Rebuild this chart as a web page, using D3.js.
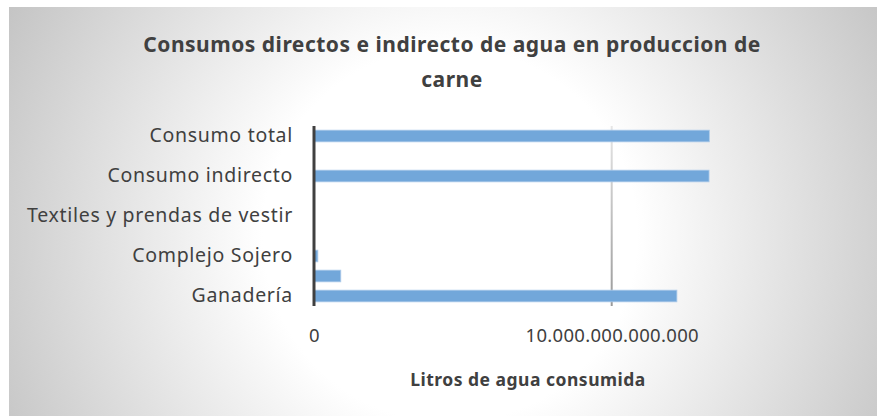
<!DOCTYPE html>
<html>
<head>
<meta charset="utf-8">
<script src="https://cdn.jsdelivr.net/npm/d3@7"></script>
<style>
  body { margin: 0; background: #fff; }
  svg { display: block; font-family: "Noto Sans", sans-serif; }
</style>
</head>
<body>
<svg id="chart" width="881" height="416"></svg>
<script>
// categories top to bottom; Excel only prints every other label
const categories = [
  "Consumo total",
  "Consumo directo",
  "Consumo indirecto ",
  "Otros",
  "Textiles y prendas de vestir",
  "Cuero",
  "Complejo Sojero",
  "Maíz",
  "Ganadería"
];
const values = [
  13.28e12,
  0,
  13.27e12,
  0,
  0,
  0,
  0.13e12,
  0.9e12,
  12.19e12
];
const xTicks = [0, 1e13];

const svg = d3.select("#chart");
const defs = svg.append("defs");

const bg = defs.append("radialGradient").attr("id", "bg")
  .attr("gradientUnits", "userSpaceOnUse")
  .attr("cx", 450).attr("cy", 235).attr("r", 520);
bg.append("stop").attr("offset", "0%").attr("stop-color", "#ffffff");
bg.append("stop").attr("offset", "36%").attr("stop-color", "#ffffff");
bg.append("stop").attr("offset", "100%").attr("stop-color", "#c0c0c0");

const grid = defs.append("linearGradient").attr("id", "grid")
  .attr("x1", 0).attr("y1", 0).attr("x2", 0).attr("y2", 1);
grid.append("stop").attr("offset", "0%").attr("stop-color", "#e6e6e6");
grid.append("stop").attr("offset", "100%").attr("stop-color", "#9a9a9a");

svg.append("rect")
  .attr("x", 9).attr("y", 7)
  .attr("width", 868).attr("height", 420)
  .attr("fill", "url(#bg)");

const x = d3.scaleLinear()
  .domain([0, 1e13])
  .range([314, 611.7]);

const y = d3.scaleBand()
  .domain(categories)
  .range([126, 306])
  .paddingInner(0.415)
  .paddingOuter(0.2075);

const locale = d3.formatLocale({ decimal: ",", thousands: ".", grouping: [3], currency: ["", ""] });
const fmt = locale.format(",d");

// gridlines
svg.append("g")
  .selectAll("rect")
  .data(xTicks.slice(1))
  .enter()
  .append("rect")
  .attr("x", d => x(d) - 1)
  .attr("y", 126)
  .attr("width", 2)
  .attr("height", 180)
  .attr("fill", "url(#grid)");

// bars
svg.append("g")
  .selectAll("rect")
  .data(categories)
  .enter()
  .append("rect")
  .attr("x", x(0))
  .attr("y", d => y(d))
  .attr("width", (d, i) => x(values[i]) - x(0))
  .attr("height", y.bandwidth())
  .attr("fill", "#72a7da")
  .attr("stroke", "#aecbea")
  .attr("stroke-width", 0.8);

// category axis
const yAxis = d3.axisLeft(y)
  .tickSize(0)
  .tickPadding(21)
  .tickFormat((d, i) => i % 2 === 0 ? d.trim() : "");
const gy = svg.append("g").attr("transform", `translate(${x(0)},0)`).call(yAxis);
gy.select(".domain").remove();
gy.selectAll("text")
  .attr("font-family", "'Noto Sans', sans-serif")
  .attr("font-size", 19.5)
  .attr("letter-spacing", 0.7)
  .attr("fill", "#404040");

svg.append("line")
  .attr("x1", x(0)).attr("x2", x(0))
  .attr("y1", 126).attr("y2", 306)
  .attr("stroke", "#404040")
  .attr("stroke-width", 3);

// value axis
const xAxis = d3.axisBottom(x)
  .tickValues(xTicks)
  .tickSize(0)
  .tickPadding(0)
  .tickFormat(fmt);
const gx = svg.append("g").attr("transform", "translate(0,329)").call(xAxis);
gx.select(".domain").remove();
gx.selectAll("text")
  .attr("font-family", "'Noto Sans', sans-serif")
  .attr("font-size", 18.5)
  .attr("letter-spacing", 0.3)
  .attr("fill", "#404040");

// titles
const title = svg.append("text")
  .attr("x", 452)
  .attr("text-anchor", "middle")
  .attr("font-weight", "bold")
  .attr("font-size", 21)
  .attr("letter-spacing", 0.5)
  .attr("fill", "#404040");
title.append("tspan").attr("x", 452).attr("y", 52).text("Consumos directos e indirecto de agua en produccion de");
title.append("tspan").attr("x", 452).attr("y", 87).text("carne");

svg.append("text")
  .attr("x", 528)
  .attr("y", 386)
  .attr("text-anchor", "middle")
  .attr("font-weight", "bold")
  .attr("font-size", 17.5)
  .attr("letter-spacing", 0.5)
  .attr("fill", "#404040")
  .text("Litros de agua consumida");
</script>
</body>
</html>
